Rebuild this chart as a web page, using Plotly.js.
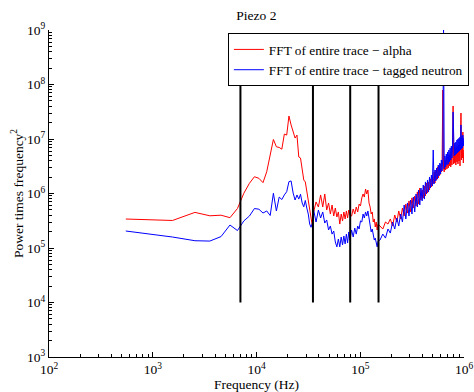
<!DOCTYPE html>
<html><head><meta charset="utf-8">
<script src="https://cdn.plot.ly/plotly-3.0.1.min.js"></script>
<style>html,body{margin:0;padding:0;background:#fff;}#chart{width:474px;height:392px;}</style>
</head><body><div id="chart"></div>
<script>
// Frequencies (Hz)
const freqLow = [550,1550,2550,3550,4550,5550,6550,7550,8550,9550,10550,11550,12550,13550,14550,15550,16550,17550,18550,19550,20550,21550,22550,23550,24550,25550,26550,27550,28550,29550,30550,31550,32550,33550,34550,35550];
const freqMid = [37500,39500,41500,43500,45500,47500,49500,51500,53500,55500,57500,59500,61500,63500,65500,67500,69500,71500,73500,75500,77500,79500];
const freqMid2 = [82500,85500,88500,91500,94500,97500,100500,103500,106500,109500,112500,115500,118500,121500,124500,127500,130500,133500,136500,139500,142500,145500,148500];
const freqHigh = [155000,165000,175000,185000,195000,205000,215000,225000,235000,245000,255000,265000,275000,285000,295000,305000,315000,325000,335000,345000,355000,365000,375000,385000,395000,405000,415000,425000,435000,445000,455000,465000,475000,485000,495000,505000,515000,525000,535000,545000,555000,565000,575000,585000,595000,605000,615000,625000,635000,645000,655000,665000,675000,685000,695000,705000,715000,725000,735000,745000,755000,765000,775000,785000,795000,805000,815000,825000,835000,845000,855000,865000,875000,885000,895000,905000,915000,925000,935000,945000,955000,965000,975000,985000,995000];

// Alpha (red)
const alphaLow = [3.4e5,3.2e5,4.5e5,3.9e5,4.0e5,3.6e5,5.3e5,1.01e6,1.54e6,2.03e6,1.9e6,1.58e6,2.51e6,5.09e6,9.8e6,7.2e6,7.0e6,6.5e6,1.23e7,1.18e7,2.64e7,1.81e7,1.28e7,1.04e7,1.18e7,4.68e6,4.48e6,2.48e6,1.77e6,1.63e6,1.07e6,7.6e5,4.38e5,3.14e5,2.53e5,4.58e5];
const alphaMid = [7.0e5,5.65e5,9.4e5,5.65e5,9.8e5,4.98e5,6.7e5,4.2e5,6.15e5,3.86e5,5.42e5,3.7e5,4.58e5,2.75e5,4.2e5,3.14e5,4.58e5,3.41e5,4.78e5,3.55e5,4.98e5,4.03e5];
const alphaMid2 = [3.86e5,5.2e5,4.2e5,5.65e5,4.58e5,6.4e5,5.9e5,8.3e5,9.8e5,8.6e5,1.21e6,9.8e5,1.16e6,6.7e5,5.65e5,4.2e5,4.58e5,3.0e5,3.41e5,2.43e5,3.0e5,2.14e5,2.75e5];
const alphaHigh = [2.53e5,2.23e5,3.0e5,2.75e5,3.41e5,2.53e5,4.03e5,3.0e5,4.78e5,3.41e5,5.42e5,3.86e5,6.4e5,4.38e5,7.3e5,4.58e5,8.3e5,5.42e5,9.0e5,5.9e5,1.07e6,6.4e5,1.26e6,7.6e5,1.16e6,8.3e5,1.37e6,9.0e5,1.56e6,1.02e6,1.63e6,1.16e6,1.85e6,1.32e6,2.01e6,1.50e6,2.48e6,1.56e6,2.70e6,1.77e6,3.07e6,1.92e6,3.2e6,2.18e6,3.48e6,2.48e6,3.79e6,7.93e7,2.94e6,2.48e6,4.12e6,2.70e6,4.48e6,2.82e6,4.68e6,2.94e6,5.09e6,3.2e6,5.31e6,3.07e6,5.78e6,3.33e6,6.28e6,4.03e7,3.48e6,6.28e6,3.63e6,6.85e6,3.33e6,7.14e6,3.79e6,7.44e6,3.48e6,7.76e6,3.95e6,8.1e6,3.2e6,8.45e6,3.0e7,4.12e6,9.6e6,4.48e6,1.34e7,3.63e6,6.28e6];

// Tagged neutron (blue)
const neutronLow = [2.05e5,1.59e5,1.36e5,1.34e5,1.62e5,2.64e5,2.09e5,3.14e5,3.86e5,5.3e5,5.15e5,4.38e5,4.78e5,3.95e5,1.01e6,4.78e5,8.6e5,7.75e5,9.4e5,1.08e6,1.65e6,1.70e6,1.02e6,7.6e5,9.4e5,7.9e5,9.7e5,6.7e5,5.7e5,7.45e5,5.4e5,4.2e5,2.75e5,2.4e5,2.87e5,4.98e5];
const neutronMid = [3.0e5,4.98e5,3.55e5,4.58e5,2.87e5,3.27e5,2.14e5,2.53e5,1.8e5,2.05e5,1.29e5,1.05e5,1.46e5,1.05e5,1.59e5,1.14e5,1.66e5,1.19e5,1.8e5,1.24e5,1.97e5,1.40e5];
const neutronMid2 = [2.14e5,1.59e5,2.32e5,1.8e5,2.53e5,2.23e5,3.14e5,3.0e5,4.2e5,3.55e5,4.58e5,3.86e5,4.78e5,3.27e5,2.64e5,1.97e5,2.23e5,1.66e5,1.40e5,1.52e5,1.19e5,1.05e5,1.34e5];
const neutronHigh = [1.40e5,1.8e5,1.52e5,2.23e5,1.88e5,3.0e5,2.23e5,3.55e5,2.53e5,4.2e5,3.0e5,6.15e5,3.41e5,6.7e5,3.86e5,7.6e5,4.2e5,8.6e5,4.58e5,9.8e5,5.65e5,1.16e6,6.15e5,1.26e6,7.3e5,1.43e6,7.9e5,1.63e6,9.8e5,1.77e6,1.07e6,2.01e6,1.26e6,2.18e6,1.37e6,6.28e6,1.50e6,2.70e6,1.70e6,2.94e6,1.85e6,3.33e6,2.09e6,3.63e6,2.28e6,4.12e6,2.59e6,4.48e6,1.2e9,2.82e6,4.88e6,3.07e6,5.31e6,3.33e6,5.78e6,3.48e6,6.28e6,3.79e6,6.85e6,4.12e6,7.44e6,4.48e6,7.76e6,3.13e7,8.1e6,4.88e6,8.45e6,5.09e6,8.8e6,5.31e6,9.6e6,5.54e6,1.0e7,5.78e6,1.04e7,6.02e6,1.09e7,6.28e6,1.81e7,6.55e6,1.13e7,6.85e6,1.18e7,7.44e6,1.04e7];

// Marker lines (Hz) and their vertical extent
const markerFreqs = [7000, 35000, 80000, 150000];
const markerRange = [1e4, 1e8];

const seriesNames = ["FFT of entire trace \u2212 alpha", "FFT of entire trace \u2212 tagged neutron"];

const freqs = freqLow.concat(freqMid, freqMid2, freqHigh);
const alpha = alphaLow.concat(alphaMid, alphaMid2, alphaHigh);
const neutron = neutronLow.concat(neutronMid, neutronMid2, neutronHigh);

const traces = [
  {x: freqs, y: alpha, type: 'scatter', mode: 'lines', name: seriesNames[0], line: {color: '#ff0000', width: 1}},
  {x: freqs, y: neutron, type: 'scatter', mode: 'lines', name: seriesNames[1], line: {color: '#0000ff', width: 1}}
];
markerFreqs.forEach(fq => traces.push({x: [fq, fq], y: markerRange, type: 'scatter', mode: 'lines', showlegend: false, line: {color: '#000', width: 2}}));

const decadesX = [2,3,4,5,6], decadesY = [3,4,5,6,7,8,9];
function minorVals(lo, hi) { const v = []; for (let d = lo; d < hi; d++) for (let m = 2; m <= 9; m++) v.push(m * Math.pow(10, d)); return v; }

const FAM = "'Liberation Serif', 'Times New Roman', Times, serif";
const f = (s) => ({family: FAM, size: s, color: '#000'});
const layout = {
  width: 474, height: 392,
  margin: {l: 49, r: 10, t: 30, b: 35, autoexpand: false},
  paper_bgcolor: '#fff', plot_bgcolor: '#fff',
  font: f(13.5),
  title: {text: 'Piezo 2', font: f(13.5), x: 0.541, xanchor: 'center', y: 0.962, yanchor: 'middle'},
  showlegend: true,
  legend: {x: 0.431, y: 0.99, xanchor: 'left', yanchor: 'top', bgcolor: '#fff', bordercolor: '#000', borderwidth: 1,
           font: f(13.3), tracegroupgap: 0, itemwidth: 30},
  xaxis: {type: 'log', range: [2, 6], automargin: false, showgrid: false, zeroline: false, showline: true, linecolor: '#000', linewidth: 1,
          ticks: 'inside', ticklen: 5, tickcolor: '#000', tickmode: 'array',
          tickvals: decadesX.map(d => Math.pow(10, d)), ticktext: decadesX.map(d => '10<sup>' + d + '</sup>'),
          tickfont: f(13.5),
          minor: {tickmode: 'array', tickvals: minorVals(2, 6), ticks: 'inside', ticklen: 3, tickcolor: '#000'},
          title: {text: 'Frequency (Hz)', font: f(13.5), standoff: 0}},
  yaxis: {type: 'log', range: [3, 9], automargin: false, showgrid: false, zeroline: false, showline: true, linecolor: '#000', linewidth: 1,
          ticks: 'inside', ticklen: 5, tickcolor: '#000', tickmode: 'array',
          tickvals: decadesY.map(d => Math.pow(10, d)), ticktext: decadesY.map(d => '10<sup>' + d + '</sup>'),
          tickfont: f(13.5),
          minor: {tickmode: 'array', tickvals: minorVals(3, 9), ticks: 'inside', ticklen: 3, tickcolor: '#000'},
          title: {text: 'Power times frequency<sup>2</sup>', font: f(13.5), standoff: 0}}
};
Plotly.newPlot('chart', traces, layout, {displayModeBar: false, staticPlot: true});
</script></body></html>
